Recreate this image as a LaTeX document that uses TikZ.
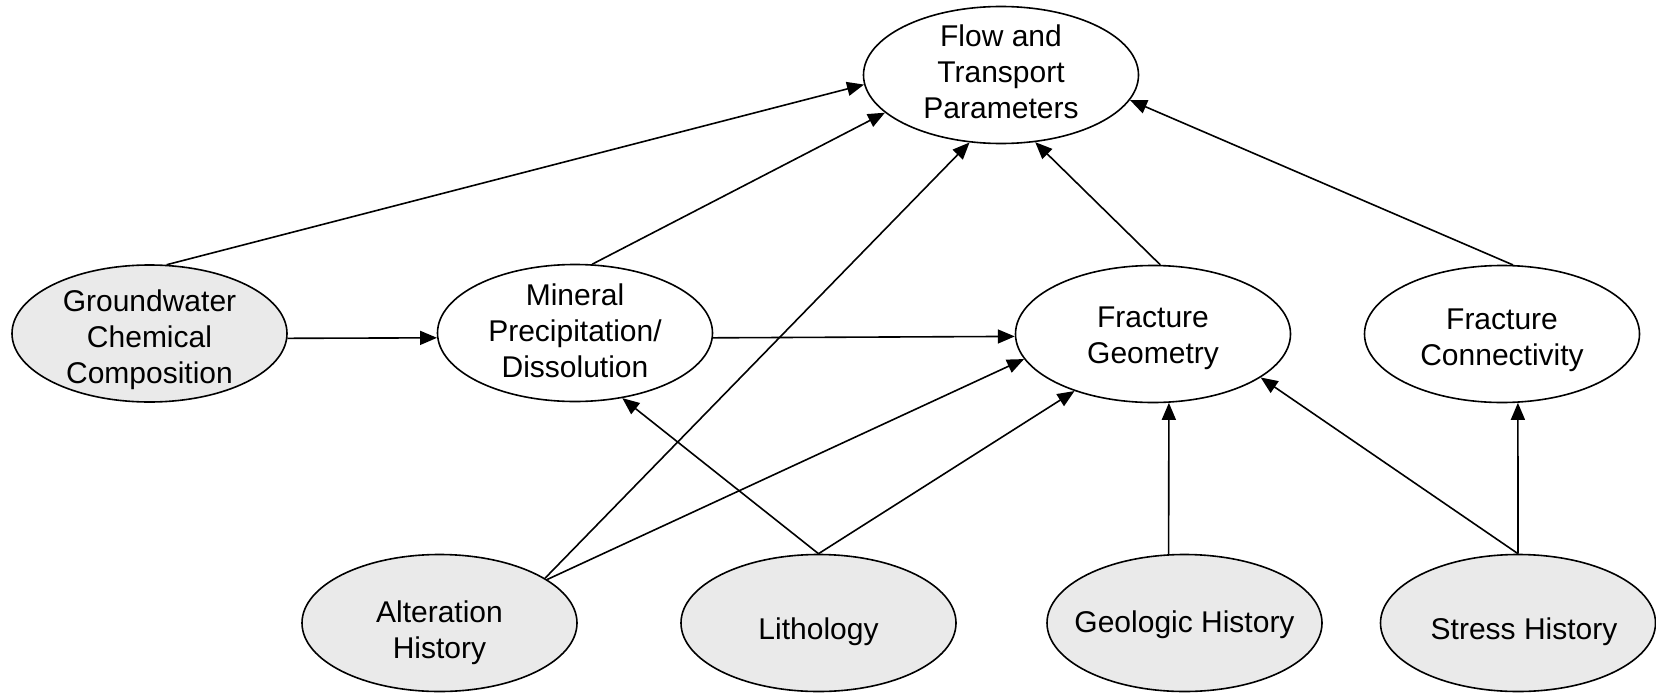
\documentclass[tikz,border=0pt]{standalone}
\usepackage{fontspec}
\setmainfont{Liberation Sans}
\usetikzlibrary{shapes.geometric,arrows.meta}
\definecolor{fillg}{RGB}{234,234,234}
\tikzset{
  ell/.style={ellipse, draw=black, line width=1.6pt, minimum width=275pt, minimum height=137pt, inner sep=0pt, fill=white},
  gell/.style={ell, fill=fillg},
  txt/.style={align=center, font=\fontsize{30}{36}\selectfont, inner sep=0pt},
  con/.style={line width=1.6pt, -{Triangle[length=17pt,width=14pt]}},
}
\begin{document}
\begin{tikzpicture}[x=1pt,y=-1pt]
\useasboundingbox (0,0) rectangle (1656,693);
% ellipses
\node[ell]  (flow) at (1001,75) {};
\node[gell] (gw)   at (149.5,333.5) {};
\node[ell]  (min)  at (575,333) {};
\node[ell]  (fg)   at (1153,334) {};
\node[ell]  (fc)   at (1502,334) {};
\node[gell] (alt)  at (439.5,623) {};
\node[gell] (lith) at (818.5,623) {};
\node[gell] (geo)  at (1184.5,623) {};
\node[gell] (str)  at (1518,623) {};
% texts
\node[txt] (flowt) at ([yshift=3pt]flow.center) {Flow and\\Transport\\Parameters};
\node[txt] (gwt)   at ([yshift=-6pt]gw.center) {Groundwater\\Chemical\\Composition};
\node[txt] (mint)  at ([yshift=2pt]min.center) {Mineral\\Precipitation/\\Dissolution};
\node[txt] (fgt)   at ([yshift=-4pt]fg.center) {Fracture\\Geometry};
\node[txt] (fct)   at ([yshift=-6pt]fc.center) {Fracture\\Connectivity};
\node[txt] (altt)  at ([yshift=-10pt]alt.center) {Alteration\\History};
\node[txt] (litht) at ([yshift=-9pt]lith.center) {Lithology};
\node[txt] (geot)  at ([yshift=-2pt]geo.center) {Geologic History};
\node[txt] (strt)  at ([xshift=6pt,yshift=-9pt]str.center) {Stress History};
% connectors
\draw[con] (gw.76) -- (flow.184);
\draw[con] (gw.-2) -- (min.182);
\draw[con] (min.76.6) -- (flow.198.6);
\draw[con] (min.-2) -- (fg.181.7);
\draw[con] (alt.23.8) -- (flow.245.7);
\draw[con] (alt.22.5) -- (fg.191.5);
\draw[con] (lith.90) -- (min.306);
\draw[con] (lith.90) -- (fg.216.8);
\draw[con] (fg.84.5) -- (flow.297);
\draw[con] (fc.81.5) -- (flow.349.5);
\draw[con] (geo.103) -- (fg.283);
\draw[con] (str.90) -- (fg.338.4);
\draw[con] (str.90) -- (fc.283.3);
\end{tikzpicture}
\end{document}
